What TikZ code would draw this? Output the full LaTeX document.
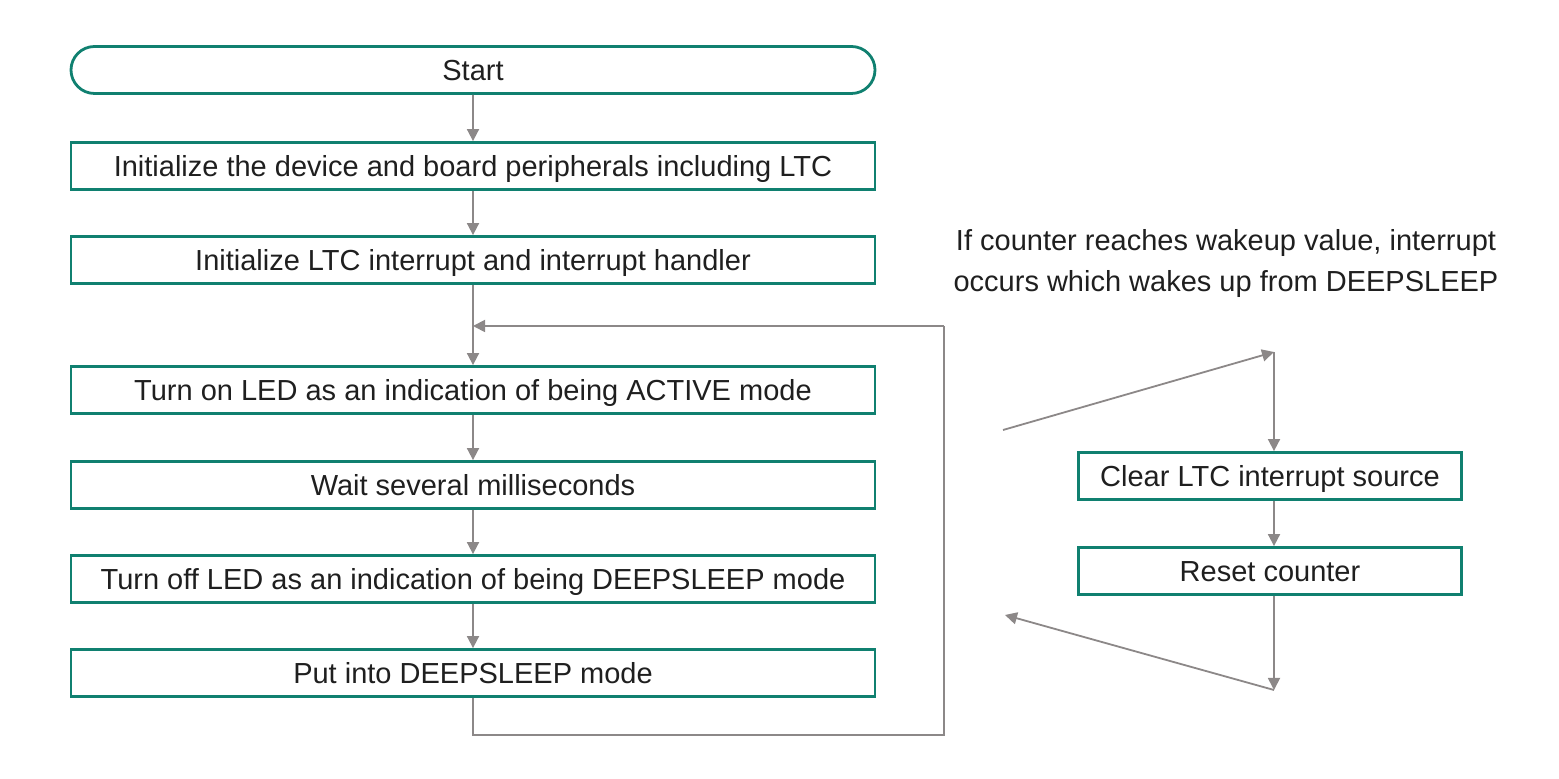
\documentclass[tikz,border=0pt]{standalone}
\usepackage{fontspec}
\setmainfont{Liberation Sans}
\usetikzlibrary{shapes.misc,arrows.meta}
\definecolor{teal1}{RGB}{16,128,112}
\definecolor{arrgray}{RGB}{140,136,136}
\begin{document}
\begin{tikzpicture}[x=0.5pt,y=-0.5pt,
  box/.style={draw=teal1,line width=1.4pt,minimum width=402pt,minimum height=23.5pt,inner sep=0pt,text height=10.4pt,text depth=0pt,font=\fontsize{14.5}{17}\selectfont,text=black!88},
  rbox/.style={box,minimum width=191.5pt},
  term/.style={box,rounded rectangle},
  conn/.style={draw=arrgray,line width=0.9pt},
  arr/.style={conn,-{Triangle[length=6pt,width=6pt]}}]
\useasboundingbox (0,0) rectangle (1559,779);
\node[term] (s) at (473,70) {Start};
\node[box] (b1) at (473,166) {Initialize the device and board peripherals including LTC};
\node[box] (b2) at (473,260) {Initialize LTC interrupt and interrupt handler};
\node[box] (b3) at (473,390) {Turn on LED as an indication of being ACTIVE mode};
\node[box] (b4) at (473,485) {Wait several milliseconds};
\node[box] (b5) at (473,579) {Turn off LED as an indication of being DEEPSLEEP mode};
\node[box] (b6) at (473,673) {Put into DEEPSLEEP mode};
\node[rbox] (ra) at (1270,476) {Clear LTC interrupt source};
\node[rbox] (rb) at (1270,571) {Reset counter};
\node[font=\fontsize{14.5}{20.5}\selectfont,align=center,text=black!88] (note) at (1226,264) {If counter reaches wakeup value, interrupt\\occurs which wakes up from DEEPSLEEP};
\coordinate (j) at (473,326);
\coordinate (c1) at (473,735);
\coordinate (c2) at (944,735);
\coordinate (c3) at (944,326);
\coordinate (w1) at (1003,430);
\coordinate (w2) at (1274,352);
\coordinate (w3) at (1274,690);
\coordinate (w4) at (1005,615);
\draw[arr] (s) -- (b1);
\draw[arr] (b1) -- (b2);
\draw[arr] (b2) -- (b3);
\draw[arr] (b3) -- (b4);
\draw[arr] (b4) -- (b5);
\draw[arr] (b5) -- (b6);
\draw[conn] (b6.south) -- (c1) -- (c2) -- (c3);
\draw[arr] (c3) -- (j);
\draw[arr] (w1) -- (w2);
\draw[arr] (w2) -- (ra.north -| w2);
\draw[arr] (ra.south -| w2) -- (rb.north -| w2);
\draw[arr] (rb.south -| w2) -- (w3);
\draw[arr] (w3) -- (w4);
\end{tikzpicture}
\end{document}
